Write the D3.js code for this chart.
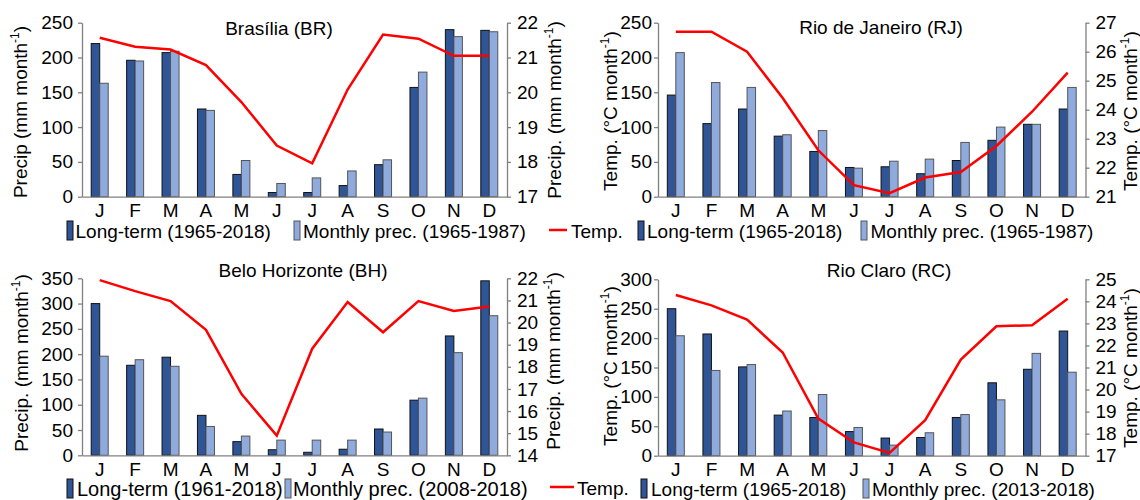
<!DOCTYPE html>
<html><head><meta charset="utf-8">
<script src="https://cdn.jsdelivr.net/npm/d3@7"></script>
<style>
html,body{margin:0;padding:0;background:#fff;}
svg{display:block;font-family:"Liberation Sans",Arial,sans-serif;}
</style></head>
<body>
<svg id="chart" width="1140" height="500"></svg>
<script>
const months = ["J","F","M","A","M","J","J","A","S","O","N","D"];

// Brasília (BR)
const brLong    = [220, 196, 207, 126, 32, 6, 6, 16, 46, 157, 240, 239];
const brMonthly = [163, 195, 209, 124, 52, 19, 27, 37, 53, 179, 230, 237];
const brTemp    = [21.57, 21.31, 21.23, 20.78, 19.72, 18.47, 17.96, 20.08, 21.66, 21.54, 21.05, 21.05];
const brLeftTicks  = [0, 50, 100, 150, 200, 250];
const brRightTicks = [17, 18, 19, 20, 21, 22];

// Rio de Janeiro (RJ)
const rjLong    = [146, 105, 126, 87, 65, 42, 43, 33, 52, 81, 104, 126];
const rjMonthly = [207, 164, 157, 89, 95, 41, 51, 54, 78, 100, 104, 157];
const rjTemp    = [26.69, 26.69, 26.0, 24.4, 22.6, 21.4, 21.12, 21.66, 21.85, 22.75, 23.93, 25.28];
const rjLeftTicks  = [0, 50, 100, 150, 200, 250];
const rjRightTicks = [21, 22, 23, 24, 25, 26, 27];

// Belo Horizonte (BH)
const bhLong    = [300, 178, 194, 79, 27, 11, 6, 12, 52, 109, 236, 345];
const bhMonthly = [196, 189, 176, 57, 38, 30, 30, 30, 46, 113, 203, 276];
const bhTemp    = [21.92, 21.42, 20.97, 19.67, 16.78, 14.89, 18.82, 20.93, 19.56, 20.97, 20.52, 20.73];
const bhLeftTicks  = [0, 50, 100, 150, 200, 250, 300, 350];
const bhRightTicks = [14, 15, 16, 17, 18, 19, 20, 21, 22];

// Rio Claro (RC)
const rcLong    = [250, 207, 151, 69, 65, 41, 30, 31, 65, 124, 147, 212];
const rcMonthly = [204, 145, 155, 76, 104, 48, 18, 39, 70, 95, 174, 142];
const rcTemp    = [24.29, 23.82, 23.17, 21.68, 18.68, 17.6, 17.13, 18.61, 21.36, 22.87, 22.92, 24.12];
const rcLeftTicks  = [0, 50, 100, 150, 200, 250, 300];
const rcRightTicks = [17, 18, 19, 20, 21, 22, 23, 24, 25];

const titles = ["Brasília (BR)", "Rio de Janeiro (RJ)", "Belo Horizonte (BH)", "Rio Claro (RC)"];

const DARK = "#2F5597", LIGHT = "#8FAADC", RED = "#FF0000", AXIS = "#808080";
const svg = d3.select("#chart");
const FS = 19;
const fmt = d3.format("d");

function axisTitle(g, x, y, main, tail) {
  const t = g.append("text")
    .attr("transform", `translate(${x},${y}) rotate(-90)`)
    .attr("text-anchor", "middle")
    .attr("font-size", FS).attr("fill", "#000");
  t.append("tspan").text(main);
  t.append("tspan").attr("font-size", 12).attr("dy", -8).text("-1");
  t.append("tspan").attr("dy", 8).text(tail);
}

function panel(o) {
  const g = svg.append("g");
  const idx = d3.range(12);
  const x = d3.scaleBand().domain(idx).range([o.xl, o.xr]);
  const yL = d3.scaleLinear().domain([0, o.leftTicks[o.leftTicks.length-1]]).range([o.y0, o.yt]);
  const yR = d3.scaleLinear().domain([o.rightTicks[0], o.rightTicks[o.rightTicks.length-1]]).range([o.y0, o.yt]);
  const bw = 8.5;

  // bars
  g.selectAll(".d").data(o.long).enter().append("rect")
    .attr("x", (d,i) => x(i) + x.bandwidth()/2 - bw)
    .attr("y", d => yL(d)).attr("width", bw).attr("height", d => yL(0) - yL(d))
    .attr("fill", DARK).attr("stroke", "#111").attr("stroke-width", 1);
  g.selectAll(".l").data(o.monthly).enter().append("rect")
    .attr("x", (d,i) => x(i) + x.bandwidth()/2)
    .attr("y", d => yL(d)).attr("width", bw).attr("height", d => yL(0) - yL(d))
    .attr("fill", LIGHT).attr("stroke", "#555").attr("stroke-width", 1);

  // axes
  const aL = g.append("g").attr("transform", `translate(${o.xl},0)`)
    .call(d3.axisLeft(yL).tickValues(o.leftTicks).tickFormat(fmt).tickSize(4).tickSizeOuter(0).tickPadding(o.lpad));
  const aR = g.append("g").attr("transform", `translate(${o.xr},0)`)
    .call(d3.axisRight(yR).tickValues(o.rightTicks).tickFormat(fmt).tickSize(4).tickSizeOuter(0).tickPadding(6));
  const aB = g.append("g").attr("transform", `translate(0,${o.y0})`)
    .call(d3.axisBottom(x).tickSize(0).tickSizeOuter(0).tickPadding(7).tickFormat(i => months[i]));
  [aL, aR, aB].forEach(a => {
    a.select(".domain").attr("stroke", AXIS).attr("stroke-width", 1.3);
    a.selectAll(".tick line").attr("stroke", AXIS).attr("stroke-width", 1.3);
    a.selectAll("text").attr("font-size", FS).attr("fill", "#000")
      .attr("font-family", "Liberation Sans, Arial, sans-serif");
  });

  // temperature line
  const line = d3.line().x((d,i) => x(i) + x.bandwidth()/2).y(d => yR(d));
  g.append("path").datum(o.temp).attr("d", line)
    .attr("fill", "none").attr("stroke", RED).attr("stroke-width", 2.5);

  // title
  g.append("text").attr("x", o.titleX).attr("y", o.titleY).attr("text-anchor", "middle")
    .attr("font-size", FS).text(o.title);

  axisTitle(g, o.ltX, o.ltY, o.leftTitle, ")");
  axisTitle(g, o.rtX, o.rtY, o.rightTitle, ")");
}

panel({xl:82, xr:507, y0:196.7, yt:22.7, long:brLong, monthly:brMonthly, temp:brTemp, lpad:5,
  leftTicks:brLeftTicks, rightTicks:brRightTicks, title:titles[0], titleX:279, titleY:35,
  ltX:27, ltY:112, leftTitle:"Precip  (mm month", rtX:561, rtY:110, rightTitle:"Precip. (mm month"});
panel({xl:658, xr:1085.5, y0:196.7, yt:22.7, long:rjLong, monthly:rjMonthly, temp:rjTemp, lpad:2,
  leftTicks:rjLeftTicks, rightTicks:rjRightTicks, title:titles[1], titleX:881, titleY:34,
  ltX:617, ltY:111, leftTitle:"Temp. (°C month", rtX:1137, rtY:111, rightTitle:"Temp. (°C month"});
panel({xl:82, xr:507, y0:455.3, yt:278.3, long:bhLong, monthly:bhMonthly, temp:bhTemp, lpad:5,
  leftTicks:bhLeftTicks, rightTicks:bhRightTicks, title:titles[2], titleX:303, titleY:277,
  ltX:28, ltY:363, leftTitle:"Precip. (mm month", rtX:560, rtY:361, rightTitle:"Precip. (mm month"});
panel({xl:658, xr:1085.5, y0:455.7, yt:279.3, long:rcLong, monthly:rcMonthly, temp:rcTemp, lpad:2,
  leftTicks:rcLeftTicks, rightTicks:rcRightTicks, title:titles[3], titleX:889, titleY:277,
  ltX:617, ltY:366, leftTitle:"Temp. (°C month", rtX:1137, rtY:368, rightTitle:"Temp. (°C month"});

// legends
const legendLabels = {
  longA: "Long-term (1965-2018)", monA: "Monthly prec. (1965-1987)",
  longB: "Long-term (1961-2018)", monB: "Monthly prec. (2008-2018)",
  monC: "Monthly prec. (2013-2018)", temp: "Temp."
};
function swatch(xp, y, color, stroke) {
  svg.append("rect").attr("x", xp).attr("y", y).attr("width", 6).attr("height", 19)
    .attr("fill", color).attr("stroke", stroke).attr("stroke-width", 1);
}
function ltext(xp, y, s, fs) {
  svg.append("text").attr("x", xp).attr("y", y).attr("font-size", fs).text(s);
}
function lline(x1, x2, y) {
  svg.append("line").attr("x1", x1).attr("x2", x2).attr("y1", y).attr("y2", y)
    .attr("stroke", RED).attr("stroke-width", 2.5);
}
// top row
swatch(67, 221, DARK, "#111"); ltext(75.5, 238, legendLabels.longA, 19);
swatch(294, 221, LIGHT, "#555"); ltext(303, 238, legendLabels.monA, 19);
lline(549, 567, 230); ltext(571, 238, legendLabels.temp, 19);
swatch(638, 221, DARK, "#111"); ltext(647, 238, legendLabels.longA, 19);
swatch(861, 221, LIGHT, "#555"); ltext(870.5, 238, legendLabels.monA, 19);
// bottom row
swatch(67, 479, DARK, "#111"); ltext(77, 496, legendLabels.longB, 20);
swatch(285, 479, LIGHT, "#555"); ltext(293, 496, legendLabels.monB, 20);
lline(550, 574, 487); ltext(577, 495, legendLabels.temp, 19);
swatch(641, 479, DARK, "#111"); ltext(651, 496, legendLabels.longA, 19);
swatch(863, 479, LIGHT, "#555"); ltext(872, 496, legendLabels.monC, 19);
</script>
</body></html>
